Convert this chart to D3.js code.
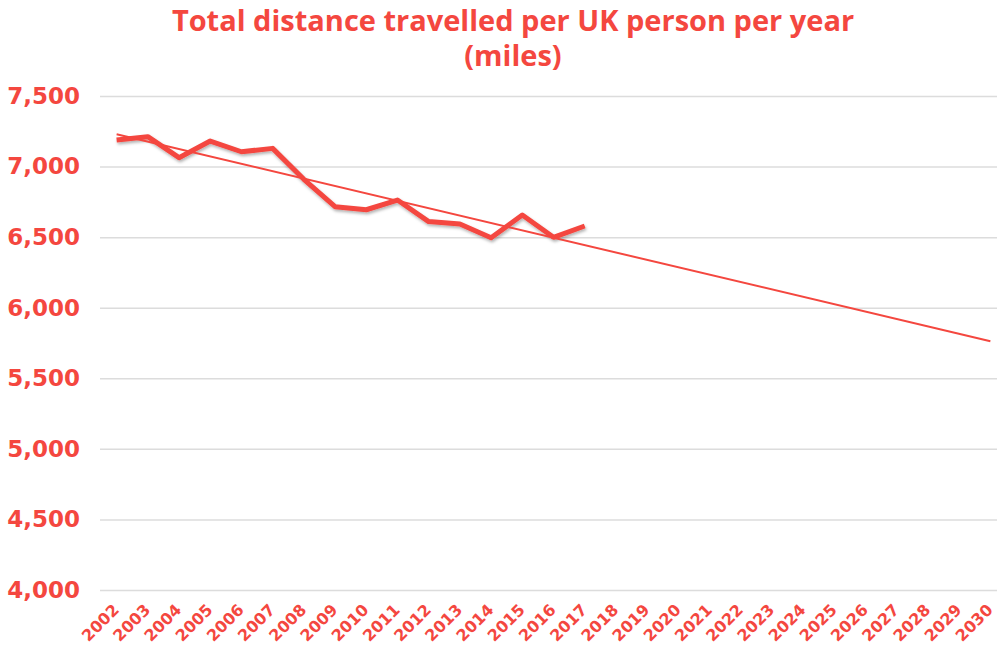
<!DOCTYPE html>
<html>
<head>
<meta charset="utf-8">
<script src="https://cdn.jsdelivr.net/npm/d3@7"></script>
<style>
  html, body { margin: 0; padding: 0; background: #fff; }
  svg { display: block; }
</style>
</head>
<body>
<svg id="chart"></svg>
<script>
// chart data
var years = [];
for (var y = 2002; y <= 2030; y++) years.push(String(y));
var dataYears = ["2002","2003","2004","2005","2006","2007","2008","2009","2010","2011","2012","2013","2014","2015","2016","2017"];
var miles = [7188, 7212, 7063, 7181, 7105, 7129, 6910, 6716, 6694, 6763, 6610, 6593, 6496, 6657, 6499, 6579];
var trendYears = ["2002", "2030"];
var trendMiles = [7229, 5763];
var yTicks = [4000, 4500, 5000, 5500, 6000, 6500, 7000, 7500];
var titleLines = ["Total distance travelled per UK person per year", "(miles)"];

var red = "#f4473f";
var width = 997, height = 645;

var svg = d3.select("#chart")
    .attr("width", width)
    .attr("height", height);

var defs = svg.append("defs");
defs.append("filter")
    .attr("id", "shadow")
    .attr("x", "-5%").attr("y", "-20%")
    .attr("width", "110%").attr("height", "140%")
  .append("feDropShadow")
    .attr("dx", 1).attr("dy", 2)
    .attr("stdDeviation", 1.5)
    .attr("flood-color", "#000")
    .attr("flood-opacity", 0.3);

var x = d3.scalePoint()
    .domain(years)
    .range([101, 1006])
    .padding(0.5);

var yScale = d3.scaleLinear()
    .domain([4000, 7500])
    .range([590, 96]);

// title
svg.append("g")
    .selectAll("text")
    .data(titleLines)
    .enter().append("text")
    .attr("x", 513)
    .attr("y", function(d, i) { return 31 + i * 35; })
    .attr("text-anchor", "middle")
    .style("font-family", "'Open Sans', 'Noto Sans', sans-serif")
    .style("font-weight", "bold")
    .style("font-size", "29px")
    .style("fill", red)
    .text(function(d) { return d; });

// y axis + grid
var yAxis = svg.append("g")
    .attr("transform", "translate(100,0)")
    .call(d3.axisLeft(yScale)
        .tickValues(yTicks)
        .tickSize(-897)
        .tickPadding(20)
        .tickFormat(d3.format(",")));
yAxis.select(".domain").remove();
yAxis.selectAll("line")
    .style("stroke", "#dcdcdc")
    .style("stroke-width", 1.5);
yAxis.selectAll("text")
    .style("font-family", "'DejaVu Sans', sans-serif")
    .style("font-weight", "bold")
    .style("font-size", "23px")
    .style("fill", red);

// x axis labels
var xAxis = svg.append("g")
    .attr("transform", "translate(0,590)")
    .call(d3.axisBottom(x).tickSize(0));
xAxis.select(".domain").remove();
xAxis.selectAll("text")
    .attr("x", 0).attr("y", 0)
    .attr("dy", "0.35em")
    .attr("transform", "translate(-1,17) rotate(-45)")
    .style("text-anchor", "end")
    .style("font-family", "'DejaVu Sans', sans-serif")
    .style("font-weight", "bold")
    .style("font-size", "16px")
    .style("fill", red);

// data line
var line = d3.line()
    .x(function(d) { return x(d[0]); })
    .y(function(d) { return yScale(d[1]); });

svg.append("path")
    .datum(d3.zip(dataYears, miles))
    .attr("d", line)
    .attr("fill", "none")
    .attr("stroke", red)
    .attr("stroke-width", 5)
    .attr("stroke-linejoin", "round")
    .attr("filter", "url(#shadow)");

// trend line
svg.append("path")
    .datum(d3.zip(trendYears, trendMiles))
    .attr("d", line)
    .attr("fill", "none")
    .attr("stroke", red)
    .attr("stroke-width", 2);
</script>
</body>
</html>
